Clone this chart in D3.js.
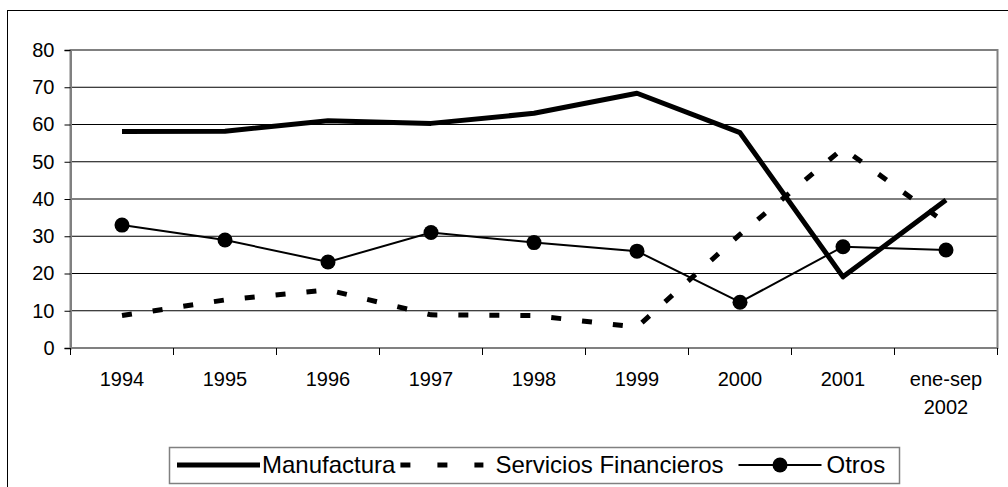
<!DOCTYPE html>
<html>
<head>
<meta charset="utf-8">
<script src="https://cdn.jsdelivr.net/npm/d3@7"></script>
<style>
    body { margin: 0; background: #fff; }
    text { font-family: "Liberation Sans", Arial, sans-serif; fill: #000; }
</style>
</head>
<body>
<div id="chart"></div>
<script>
// categories and series
const years = ["1994", "1995", "1996", "1997", "1998", "1999", "2000", "2001", "ene-sep 2002"];
const manufactura = [58.1, 58.2, 61.0, 60.3, 63.0, 68.4, 57.8, 19.1, 39.7];
const servicios = [8.7, 12.9, 15.6, 8.9, 8.7, 5.6, 30.5, 53.6, 33.5];
const otros = [33.0, 29.0, 23.1, 31.0, 28.3, 26.0, 12.3, 27.2, 26.3];
const yTicks = [0, 10, 20, 30, 40, 50, 60, 70, 80];
const seriesNames = ["Manufactura", "Servicios Financieros", "Otros"];

const width = 1008;
const height = 487;
const plot = { left: 70.5, right: 997.5, top: 50, bottom: 348 };

const svg = d3.select("#chart")
    .append("svg")
    .attr("width", width)
    .attr("height", height);

// outer chart border (runs off the bottom/right of the picture)
svg.append("rect")
    .attr("x", 7.5).attr("y", 10.5)
    .attr("width", 1010).attr("height", 490)
    .attr("fill", "none")
    .attr("stroke", "#000")
    .attr("stroke-width", 1);

const x = d3.scaleBand()
    .domain(years)
    .range([plot.left, plot.right]);

const y = d3.scaleLinear()
    .domain([0, 80])
    .range([plot.bottom, plot.top]);

const cx = d => x(d) + x.bandwidth() / 2;

// gridlines
svg.append("g")
    .selectAll("line")
    .data(yTicks.filter(t => t > 0 && t < 80))
    .enter().append("line")
    .attr("x1", plot.left).attr("x2", plot.right)
    .attr("y1", d => y(d)).attr("y2", d => y(d))
    .attr("stroke", "#000")
    .attr("stroke-width", 1);

// plot frame
svg.append("rect")
    .attr("x", plot.left).attr("y", plot.top)
    .attr("width", plot.right - plot.left)
    .attr("height", plot.bottom - plot.top)
    .attr("fill", "none")
    .attr("stroke", "#808080")
    .attr("stroke-width", 2);

// y axis
const yAxis = svg.append("g")
    .attr("transform", `translate(${plot.left},0)`)
    .call(d3.axisLeft(y).tickValues(yTicks).tickSize(6).tickPadding(10));
yAxis.select(".domain").attr("stroke", "#808080").attr("stroke-width", 2);
yAxis.selectAll(".tick line").attr("stroke", "#000");
yAxis.selectAll(".tick text")
    .style("font-family", "Liberation Sans, Arial, sans-serif")
    .style("font-size", "20px");

// x axis: ticks sit on the category boundaries
const xAxis = svg.append("g")
    .attr("transform", `translate(0,${plot.bottom})`);
xAxis.append("line")
    .attr("x1", plot.left).attr("x2", plot.right)
    .attr("stroke", "#808080").attr("stroke-width", 2);
xAxis.selectAll(".xtick")
    .data(years.concat(["end"]))
    .enter().append("line")
    .attr("class", "xtick")
    .attr("x1", (d, i) => plot.left + i * x.bandwidth())
    .attr("x2", (d, i) => plot.left + i * x.bandwidth())
    .attr("y1", 0).attr("y2", 7)
    .attr("stroke", "#000");

xAxis.selectAll(".xlabel")
    .data(years)
    .enter().append("text")
    .attr("class", "xlabel")
    .attr("text-anchor", "middle")
    .style("font-size", "20px")
    .each(function(d) {
        const parts = d.split(" ");
        d3.select(this).selectAll("tspan")
            .data(parts)
            .enter().append("tspan")
            .attr("x", cx(d))
            .attr("y", (p, i) => 38 + i * 28)
            .text(p => p);
    });

// series
const line = d3.line()
    .x((d, i) => cx(years[i]))
    .y(d => y(d));

svg.append("path")
    .datum(servicios)
    .attr("d", line)
    .attr("fill", "none")
    .attr("stroke", "#000")
    .attr("stroke-width", 5)
    .attr("stroke-dasharray", "10,21");

svg.append("path")
    .datum(otros)
    .attr("d", line)
    .attr("fill", "none")
    .attr("stroke", "#000")
    .attr("stroke-width", 2);

svg.selectAll(".otros-dot")
    .data(otros)
    .enter().append("circle")
    .attr("class", "otros-dot")
    .attr("cx", (d, i) => cx(years[i]))
    .attr("cy", d => y(d))
    .attr("r", 7.5)
    .attr("fill", "#000");

svg.append("path")
    .datum(manufactura)
    .attr("d", line)
    .attr("fill", "none")
    .attr("stroke", "#000")
    .attr("stroke-width", 5)
    .attr("stroke-linejoin", "round");

// legend
const legend = svg.append("g");
legend.append("rect")
    .attr("x", 169.5).attr("y", 447.5)
    .attr("width", 730).attr("height", 36)
    .attr("fill", "#fff")
    .attr("stroke", "#808080")
    .attr("stroke-width", 1.5);

const legendY = 465;
const sampleGap = [85, 95, 88];
const afterGap = [5, 15, 0];
let lx = 177;
seriesNames.forEach((name, i) => {
    const g = legend.append("g");
    const seg = g.append("line")
        .attr("x1", lx).attr("x2", lx + 83)
        .attr("y1", legendY).attr("y2", legendY)
        .attr("stroke", "#000");
    if (i === 0) seg.attr("stroke-width", 5);
    if (i === 1) seg.attr("stroke-width", 5).attr("stroke-dasharray", "10,27");
    if (i === 2) {
        seg.attr("stroke-width", 2);
        g.append("circle")
            .attr("cx", lx + 41.5).attr("cy", legendY)
            .attr("r", 7.5).attr("fill", "#000");
    }
    const t = g.append("text")
        .attr("x", lx + sampleGap[i])
        .attr("y", legendY)
        .attr("dy", "0.35em")
        .style("font-size", "24px")
        .text(name);
    lx = lx + sampleGap[i] + t.node().getComputedTextLength() + afterGap[i];
});
</script>
</body>
</html>
